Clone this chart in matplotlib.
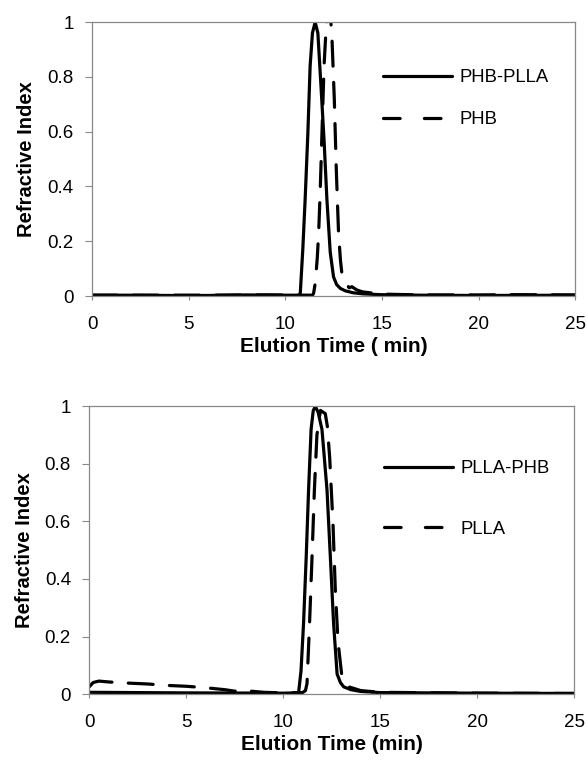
import matplotlib.pyplot as plt
from matplotlib.lines import Line2D
from matplotlib.ticker import FormatStrFormatter

plt.rcParams['font.family'] = ['Liberation Sans', 'DejaVu Sans']

# Top panel: PHB-PLLA copolymer vs PHB precursor
t_phb_plla = [0, 2, 4, 6, 8, 10, 10.7, 10.77, 10.9, 11.02, 11.16, 11.28, 11.4, 11.54, 11.68,
              11.83, 12.0, 12.15, 12.32, 12.49, 12.65, 12.84, 13.1, 13.5, 14, 14.9, 17, 20, 25]
ri_phb_plla = [0.003, 0.003, 0.002, 0.002, 0.004, 0.003, 0.003, 0.01, 0.17, 0.35, 0.59, 0.84,
               0.96, 1.0, 0.96, 0.78, 0.57, 0.35, 0.16, 0.07, 0.042, 0.028, 0.019, 0.012,
               0.008, 0.005, 0.003, 0.002, 0.003]

t_phb = [0, 3, 6, 9, 11.4, 11.46, 11.55, 11.65, 11.72, 11.8, 11.89, 12.0, 12.1, 12.15, 12.25,
         12.35, 12.4, 12.53, 12.63, 12.75, 12.85, 12.92, 13.1, 13.3, 13.44, 13.7, 14, 15, 17,
         20, 22, 25]
ri_phb = [0.003, 0.003, 0.003, 0.004, 0.003, 0.01, 0.05, 0.14, 0.23, 0.38, 0.59, 0.84, 0.97,
          1.01, 1.04, 1.0, 0.96, 0.72, 0.47, 0.23, 0.13, 0.084, 0.05, 0.03, 0.034, 0.022,
          0.015, 0.007, 0.004, 0.004, 0.005, 0.004]

# Bottom panel: PLLA-PHB copolymer vs PLLA precursor
t_plla_phb = [0, 5, 10, 10.7, 10.8, 10.92, 11.05, 11.19, 11.31, 11.44, 11.55, 11.66, 11.8,
              12.0, 12.26, 12.43, 12.6, 12.78, 12.95, 13.12, 13.5, 14, 15, 20, 25]
ri_plla_phb = [0.006, 0.004, 0.003, 0.004, 0.008, 0.08, 0.245, 0.48, 0.71, 0.92, 0.985, 1.0,
               0.98, 0.92, 0.71, 0.48, 0.245, 0.07, 0.04, 0.025, 0.015, 0.009, 0.005, 0.003,
               0.002]

t_plla = [0, 0.2, 0.5, 1, 2, 3, 4, 5, 6, 7, 7.5, 8, 9, 10, 11, 11.15, 11.23, 11.36, 11.49,
          11.61, 11.74, 11.92, 12.05, 12.17, 12.28, 12.4, 12.57, 12.69, 12.83, 13.03, 13.38,
          14, 15, 20, 25]
ri_plla = [0.025, 0.04, 0.045, 0.042, 0.038, 0.035, 0.03, 0.027, 0.022, 0.015, 0.01, 0.012,
           0.006, 0.004, 0.005, 0.012, 0.037, 0.245, 0.48, 0.71, 0.9, 0.986, 0.98, 0.975,
           0.93, 0.82, 0.59, 0.36, 0.18, 0.06, 0.025, 0.012, 0.006, 0.003, 0.002]

xticks = [0, 5, 10, 15, 20, 25]
yticks = [0, 0.2, 0.4, 0.6, 0.8, 1]

fig = plt.figure(figsize=(5.87, 7.61), dpi=100)
ax1 = fig.add_axes([0.157, 0.611, 0.823, 0.36])
ax2 = fig.add_axes([0.152, 0.088, 0.826, 0.378])

# (axes, solid series, dashed series, x label, legend anchor, legend row spacing)
panels = [
    (ax1, t_phb_plla, ri_phb_plla, 'PHB-PLLA', t_phb, ri_phb, 'PHB',
     'Elution Time ( min)', (0.602, 0.828), 1.37),
    (ax2, t_plla_phb, ri_plla_phb, 'PLLA-PHB', t_plla, ri_plla, 'PLLA',
     'Elution Time (min)', (0.608, 0.812), 2.35),
]

for ax, xs, ys, lab_s, xd, yd, lab_d, xlabel, anchor, spacing in panels:
    ax.plot(xs, ys, color='black', lw=2.3, solid_capstyle='round', solid_joinstyle='round')
    ax.plot(xd, yd, color='black', lw=2.3, dashes=(7.8, 5.1), dash_capstyle='round')
    ax.set_xlim(0, 25)
    ax.set_ylim(0, 1)
    ax.set_xticks(xticks)
    ax.set_yticks(yticks)
    ax.yaxis.set_major_formatter(FormatStrFormatter('%g'))
    for s in ax.spines.values():
        s.set_color('#888888')
        s.set_linewidth(0.9)
    ax.tick_params(axis='x', colors='#888888', labelcolor='black', labelsize=13.5,
                   length=3, width=0.8, pad=11.5)
    ax.tick_params(axis='y', colors='#888888', labelcolor='black', labelsize=13.5,
                   length=4.7, width=0.8, pad=8.5)
    ax.set_xlabel(xlabel, fontsize=15, fontweight='bold', labelpad=3)
    ax.set_ylabel('Refractive Index', fontsize=14.5, fontweight='bold', labelpad=8)

    handles = [Line2D([], [], color='black', lw=2.3, solid_capstyle='round'),
               Line2D([], [], color='black', lw=2.3, dashes=(5.2, 7.6),
                      dash_capstyle='round')]
    ax.legend(handles, [lab_s, lab_d], loc='upper left', bbox_to_anchor=anchor,
              frameon=False, fontsize=13.3, handlelength=3.74, labelspacing=spacing,
              handletextpad=0.38, borderpad=0, borderaxespad=0)

fig.savefig('out.png', dpi=100)
